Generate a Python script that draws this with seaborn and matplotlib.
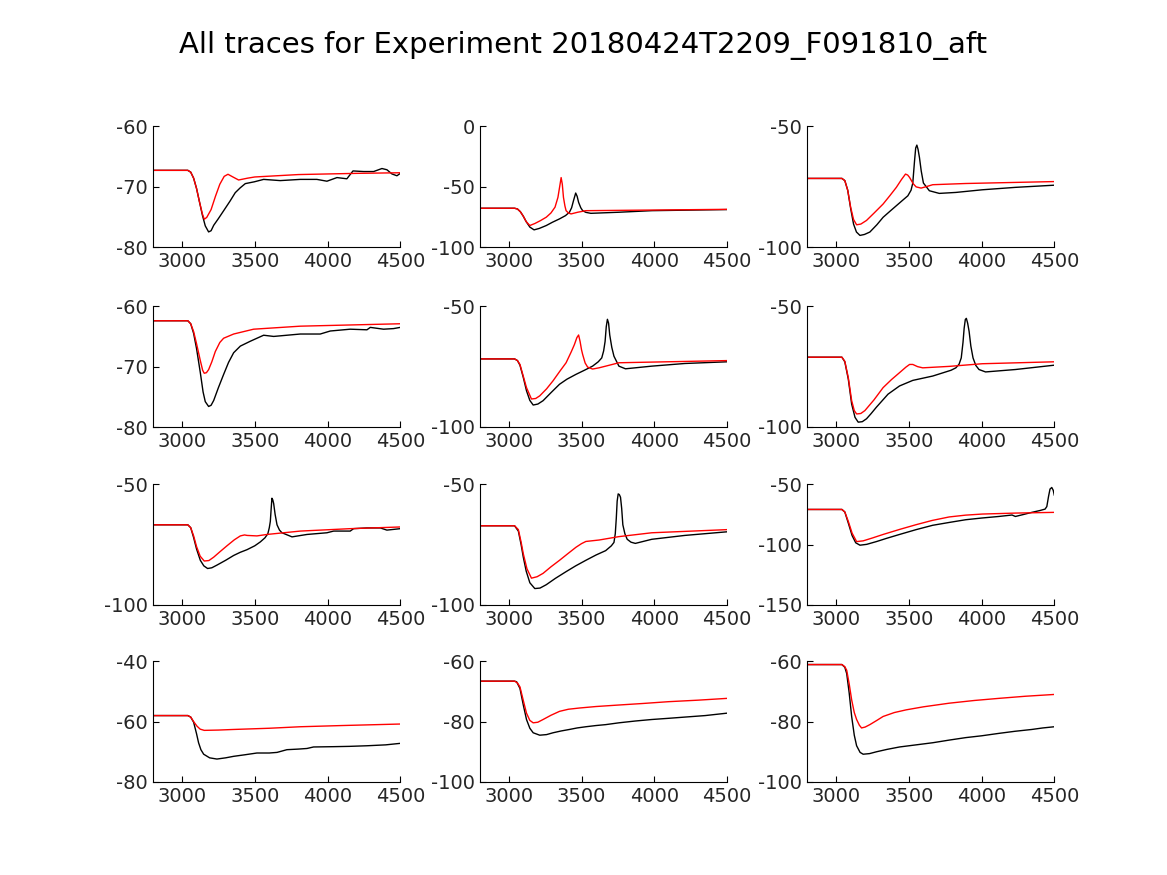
import numpy as np
import pandas as pd
import matplotlib
matplotlib.use("Agg")
import matplotlib.pyplot as plt
import seaborn as sns

# ── Data (x = sample, y = value) ──────────────────────────────────────────────
p1_bx = [2800, 3040, 3060, 3080, 3100, 3120, 3140, 3160, 3183, 3200, 3218, 3250, 3286, 3330, 3366, 3400, 3435, 3497, 3561, 3675, 3813, 3927, 3996, 4065, 4133, 4175, 4248, 4317, 4374, 4408, 4443, 4477, 4500]
p1_by = [-67.3, -67.3, -67.6, -68.6, -70.3, -72.5, -74.7, -76.5, -77.5, -77.3, -76.4, -75.3, -74.0, -72.4, -71.0, -70.2, -69.5, -69.2, -68.8, -69.0, -68.8, -68.8, -69.1, -68.5, -68.7, -67.4, -67.5, -67.5, -67.0, -67.2, -67.9, -68.2, -67.8]
p1_rx = [2800, 3040, 3060, 3080, 3100, 3120, 3140, 3153, 3170, 3200, 3230, 3260, 3290, 3316, 3350, 3389, 3450, 3500, 3800, 4200, 4500]
p1_ry = [-67.3, -67.3, -67.6, -68.6, -70.3, -72.5, -74.5, -75.4, -75.1, -73.8, -71.6, -69.6, -68.3, -67.95, -68.4, -68.9, -68.6, -68.4, -68.0, -67.8, -67.7]

p2_bx = [2800, 3040, 3060, 3080, 3100, 3120, 3145, 3174, 3210, 3258, 3300, 3349, 3390, 3417, 3432, 3445, 3460, 3470, 3480, 3495, 3508, 3530, 3564, 3757, 3983, 4500]
p2_by = [-67.9, -67.9, -68.5, -70.8, -74.5, -79.0, -83.5, -85.8, -84.6, -82.2, -79.5, -76.7, -74.0, -71.2, -67.5, -61.6, -55.3, -58.0, -63.0, -67.5, -69.9, -71.3, -72.1, -71.2, -69.9, -69.0]
p2_rx = [2800, 3040, 3060, 3080, 3100, 3120, 3145, 3180, 3220, 3258, 3290, 3318, 3338, 3350, 3360, 3368, 3376, 3386, 3394, 3410, 3428, 3474, 3530, 4500]
p2_ry = [-67.9, -67.9, -68.5, -70.8, -74.5, -79.0, -82.2, -80.5, -78.0, -75.3, -71.8, -67.0, -58.9, -50.0, -42.5, -48.0, -58.9, -66.0, -69.9, -71.8, -72.6, -71.2, -69.9, -68.8]

p3_bx = [2800, 3040, 3060, 3080, 3100, 3120, 3140, 3164, 3195, 3232, 3280, 3323, 3370, 3414, 3460, 3493, 3515, 3527, 3539, 3547, 3555, 3563, 3573, 3585, 3600, 3641, 3709, 3823, 4005, 4232, 4500]
p3_by = [-71.6, -71.6, -72.5, -76.5, -84.0, -90.5, -93.8, -95.2, -94.8, -93.8, -90.8, -87.7, -85.2, -82.9, -80.5, -78.8, -76.5, -73.5, -64.4, -59.0, -57.8, -59.5, -63.0, -68.5, -73.5, -76.7, -77.8, -77.4, -76.3, -75.3, -74.4]
p3_rx = [2800, 3040, 3060, 3080, 3100, 3120, 3141, 3170, 3209, 3260, 3323, 3370, 3414, 3450, 3477, 3492, 3505, 3530, 3550, 3584, 3620, 3664, 3891, 4500]
p3_ry = [-71.6, -71.6, -72.5, -76.5, -83.5, -88.6, -90.8, -90.5, -89.0, -86.0, -82.2, -78.7, -75.3, -72.0, -69.8, -70.2, -71.2, -73.8, -75.1, -75.6, -75.0, -74.2, -73.7, -72.9]

p4_bx = [2800, 3040, 3060, 3080, 3100, 3126, 3145, 3160, 3183, 3200, 3218, 3250, 3286, 3320, 3355, 3401, 3469, 3561, 3630, 3813, 3950, 4019, 4156, 4271, 4294, 4385, 4454, 4500]
p4_by = [-62.4, -62.4, -62.9, -64.5, -67.0, -71.0, -74.2, -75.8, -76.6, -76.4, -75.6, -73.5, -71.3, -69.3, -67.7, -66.6, -65.8, -64.8, -65.0, -64.6, -64.6, -64.1, -63.8, -63.9, -63.5, -63.8, -63.7, -63.5]
p4_rx = [2800, 3040, 3060, 3080, 3100, 3126, 3142, 3153, 3168, 3183, 3205, 3229, 3260, 3286, 3355, 3492, 3813, 4500]
p4_ry = [-62.4, -62.4, -62.9, -64.2, -66.2, -69.0, -70.6, -71.1, -71.0, -70.5, -69.2, -67.5, -66.0, -65.3, -64.6, -63.8, -63.3, -62.9]

p5_bx = [2800, 3040, 3060, 3077, 3100, 3122, 3145, 3168, 3200, 3236, 3290, 3349, 3400, 3462, 3520, 3576, 3615, 3639, 3652, 3662, 3670, 3678, 3686, 3694, 3708, 3723, 3757, 3802, 3983, 4210, 4500]
p5_by = [-71.8, -71.8, -72.5, -74.4, -79.5, -85.0, -89.0, -90.9, -90.5, -89.1, -85.8, -82.3, -80.2, -78.2, -76.5, -74.8, -73.0, -71.4, -68.5, -64.6, -58.5, -55.4, -57.0, -61.9, -67.0, -70.7, -74.8, -75.9, -74.8, -73.7, -73.0]
p5_rx = [2800, 3040, 3060, 3077, 3100, 3122, 3156, 3185, 3213, 3260, 3304, 3350, 3394, 3430, 3451, 3468, 3480, 3490, 3500, 3508, 3525, 3542, 3576, 3620, 3666, 3757, 4500]
p5_ry = [-71.8, -71.8, -72.5, -74.1, -79.0, -83.7, -88.4, -88.2, -87.1, -84.2, -80.9, -77.0, -73.4, -68.8, -65.9, -63.0, -61.9, -64.5, -68.0, -70.0, -73.5, -75.2, -76.0, -75.5, -74.8, -73.4, -72.5]

p6_bx = [2800, 3040, 3060, 3084, 3107, 3130, 3152, 3180, 3209, 3240, 3277, 3357, 3436, 3527, 3664, 3790, 3823, 3845, 3860, 3872, 3880, 3888, 3895, 3904, 3914, 3926, 3941, 3960, 3982, 4027, 4232, 4500]
p6_by = [-71.1, -71.1, -73.0, -80.2, -90.5, -96.0, -98.0, -97.8, -96.6, -94.5, -91.8, -86.4, -83.0, -80.7, -78.9, -76.5, -75.5, -74.0, -71.4, -65.0, -59.1, -55.5, -55.0, -57.0, -60.4, -66.5, -71.4, -74.5, -76.2, -77.2, -76.2, -74.4]
p6_rx = [2800, 3040, 3060, 3084, 3107, 3125, 3141, 3170, 3198, 3260, 3323, 3380, 3436, 3480, 3505, 3527, 3560, 3595, 3777, 4005, 4500]
p6_ry = [-71.1, -71.1, -72.8, -79.6, -89.1, -93.2, -94.6, -94.4, -93.2, -88.8, -83.7, -80.4, -77.5, -75.2, -74.1, -74.1, -75.0, -75.5, -74.9, -73.8, -73.0]

p7_bx = [2800, 3040, 3060, 3080, 3100, 3126, 3150, 3176, 3205, 3240, 3300, 3355, 3400, 3447, 3500, 3538, 3570, 3590, 3600, 3607, 3613, 3618, 3624, 3630, 3640, 3653, 3670, 3687, 3756, 3859, 3996, 4042, 4156, 4179, 4271, 4363, 4408, 4500]
p7_by = [-66.8, -66.8, -68.0, -72.1, -76.8, -81.5, -83.8, -84.9, -84.6, -83.5, -81.5, -79.5, -78.2, -77.1, -75.5, -73.9, -72.2, -70.5, -68.0, -65.4, -60.0, -55.8, -56.5, -58.0, -62.5, -66.8, -69.0, -70.1, -71.8, -70.8, -70.1, -69.4, -69.4, -68.4, -68.1, -68.1, -69.0, -68.4]
p7_rx = [2800, 3040, 3060, 3080, 3100, 3125, 3153, 3185, 3218, 3260, 3309, 3360, 3401, 3430, 3447, 3515, 3584, 3813, 4156, 4500]
p7_ry = [-66.8, -66.8, -68.0, -71.4, -75.8, -79.8, -81.8, -81.6, -80.2, -78.0, -75.5, -73.0, -71.4, -71.0, -71.2, -71.4, -70.8, -69.4, -68.4, -67.7]

p8_bx = [2800, 3040, 3066, 3085, 3100, 3120, 3145, 3179, 3215, 3258, 3320, 3394, 3460, 3530, 3600, 3666, 3705, 3723, 3732, 3739, 3745, 3752, 3760, 3768, 3776, 3784, 3798, 3814, 3840, 3870, 3983, 4210, 4500]
p8_by = [-67.2, -67.2, -69.4, -75.0, -80.2, -86.0, -90.8, -93.2, -93.0, -91.6, -89.0, -86.2, -83.8, -81.5, -79.3, -77.5, -75.5, -74.1, -70.5, -64.1, -57.0, -54.0, -54.3, -55.4, -60.0, -66.8, -70.5, -72.8, -74.0, -74.5, -72.8, -71.2, -69.7]
p8_rx = [2800, 3040, 3066, 3085, 3100, 3125, 3156, 3195, 3236, 3290, 3349, 3405, 3462, 3500, 3530, 3575, 3621, 3757, 3983, 4500]
p8_ry = [-67.2, -67.2, -68.8, -74.0, -78.8, -85.0, -88.9, -88.3, -86.9, -84.2, -81.5, -78.8, -76.1, -74.6, -73.7, -73.4, -73.1, -71.7, -70.1, -68.8]

p9_bx = [2800, 3040, 3060, 3084, 3110, 3135, 3164, 3210, 3277, 3350, 3436, 3550, 3664, 3780, 3891, 4000, 4118, 4209, 4232, 4290, 4345, 4400, 4436, 4448, 4460, 4470, 4482, 4492, 4500]
p9_by = [-70.9, -70.9, -73.0, -82.2, -92.5, -98.5, -100.5, -99.8, -97.5, -94.7, -91.6, -87.6, -84.0, -81.6, -79.4, -78.0, -76.7, -75.5, -76.7, -75.0, -73.3, -71.8, -70.6, -68.5, -60.0, -54.0, -52.7, -55.0, -59.4]
p9_rx = [2800, 3040, 3060, 3084, 3110, 3141, 3186, 3250, 3323, 3440, 3550, 3660, 3777, 3890, 4005, 4232, 4500]
p9_ry = [-70.9, -70.9, -73.0, -80.8, -90.5, -97.5, -96.9, -94.5, -91.6, -87.3, -83.5, -80.0, -77.1, -75.6, -74.7, -73.9, -73.3]

p10_bx = [2800, 3040, 3060, 3080, 3100, 3114, 3130, 3149, 3190, 3240, 3300, 3355, 3430, 3515, 3600, 3653, 3721, 3800, 3859, 3904, 4042, 4150, 4271, 4400, 4500]
p10_by = [-58.0, -58.0, -58.5, -60.2, -64.0, -67.0, -69.3, -70.8, -72.0, -72.4, -72.0, -71.5, -71.0, -70.4, -70.4, -70.2, -69.3, -69.1, -68.9, -68.4, -68.3, -68.2, -68.0, -67.7, -67.2]
p10_rx = [2800, 3040, 3060, 3080, 3103, 3125, 3153, 3250, 3355, 3600, 3813, 4100, 4500]
p10_ry = [-58.0, -58.0, -58.5, -60.0, -61.5, -62.5, -62.9, -62.8, -62.6, -62.2, -61.7, -61.3, -60.8]

p11_bx = [2800, 3040, 3054, 3077, 3100, 3122, 3145, 3168, 3213, 3260, 3304, 3360, 3417, 3470, 3530, 3600, 3666, 3757, 3870, 3983, 4100, 4210, 4350, 4500]
p11_by = [-66.6, -66.6, -66.8, -69.0, -74.5, -79.3, -82.2, -83.7, -84.5, -84.3, -83.7, -83.1, -82.6, -82.1, -81.7, -81.3, -81.0, -80.4, -79.8, -79.3, -78.9, -78.5, -78.0, -77.2]
p11_rx = [2800, 3040, 3060, 3077, 3100, 3122, 3145, 3168, 3200, 3236, 3290, 3349, 3410, 3485, 3600, 3757, 3920, 4097, 4300, 4500]
p11_ry = [-66.6, -66.6, -67.2, -68.5, -73.0, -77.2, -79.6, -80.4, -80.2, -79.3, -77.9, -76.6, -75.9, -75.5, -75.0, -74.5, -74.0, -73.4, -72.9, -72.3]

p12_bx = [2800, 3040, 3060, 3073, 3090, 3107, 3125, 3141, 3165, 3186, 3230, 3277, 3350, 3436, 3550, 3664, 3780, 3891, 4000, 4118, 4230, 4345, 4420, 4500]
p12_by = [-61.1, -61.1, -62.0, -64.1, -70.5, -78.3, -84.5, -88.0, -90.2, -90.8, -90.6, -90.0, -89.2, -88.4, -87.7, -87.0, -86.1, -85.3, -84.7, -83.9, -83.2, -82.6, -82.1, -81.7]
p12_rx = [2800, 3040, 3060, 3073, 3090, 3107, 3125, 3141, 3160, 3175, 3200, 3232, 3280, 3323, 3400, 3482, 3600, 3777, 3950, 4118, 4300, 4500]
p12_ry = [-61.1, -61.1, -61.8, -63.0, -67.5, -72.8, -77.0, -79.3, -81.2, -82.1, -81.8, -81.0, -79.6, -78.3, -77.0, -76.1, -75.1, -73.9, -73.0, -72.3, -71.6, -71.0]

y_limits = [(-80, -60), (-100, 0), (-100, -50),
            (-80, -60), (-100, -50), (-100, -50),
            (-100, -50), (-100, -50), (-150, -50),
            (-80, -40), (-100, -60), (-100, -60)]
y_ticks = [[-80, -70, -60], [-100, -50, 0], [-100, -50],
           [-80, -70, -60], [-100, -50], [-100, -50],
           [-100, -50], [-100, -50], [-150, -100, -50],
           [-80, -60, -40], [-100, -80, -60], [-100, -80, -60]]
x_ticks = [3000, 3500, 4000, 4500]

panels = [
    (p1_bx, p1_by, p1_rx, p1_ry), (p2_bx, p2_by, p2_rx, p2_ry), (p3_bx, p3_by, p3_rx, p3_ry),
    (p4_bx, p4_by, p4_rx, p4_ry), (p5_bx, p5_by, p5_rx, p5_ry), (p6_bx, p6_by, p6_rx, p6_ry),
    (p7_bx, p7_by, p7_rx, p7_ry), (p8_bx, p8_by, p8_rx, p8_ry), (p9_bx, p9_by, p9_rx, p9_ry),
    (p10_bx, p10_by, p10_rx, p10_ry), (p11_bx, p11_by, p11_rx, p11_ry), (p12_bx, p12_by, p12_rx, p12_ry),
]

# ── Style ─────────────────────────────────────────────────────────────────────
sns.set_style("ticks")
plt.rcParams["font.family"] = ["DejaVu Sans"]
plt.rcParams["axes.unicode_minus"] = False
plt.rcParams["xtick.direction"] = "in"
plt.rcParams["ytick.direction"] = "in"

fig = plt.figure(figsize=(11.67, 8.75), dpi=100)

# MATLAB-like subplot grid positions (figure fractions)
col_left = [0.131, 0.411, 0.6915]
row_bottom = [0.7177, 0.512, 0.3086, 0.1063]
ax_w, ax_h = 0.212, 0.138

for i, (bx, by, rx, ry) in enumerate(panels):
    r, c = divmod(i, 3)
    ax = fig.add_axes([col_left[c], row_bottom[r], ax_w, ax_h])
    sns.lineplot(x=bx, y=by, ax=ax, color="black", lw=1.0, estimator=None, sort=False)
    sns.lineplot(x=rx, y=ry, ax=ax, color="red", lw=1.0, estimator=None, sort=False)
    ax.set_xlim(2800, 4500)
    ax.set_ylim(*y_limits[i])
    ax.set_xticks(x_ticks)
    ax.set_yticks(y_ticks[i])
    ax.tick_params(labelsize=14, labelcolor="#262626", color="black", length=4, width=0.8)
    for s in ["left", "bottom"]:
        ax.spines[s].set_color("black")
        ax.spines[s].set_linewidth(0.8)
    sns.despine(ax=ax)
    ax.set_xlabel("")
    ax.set_ylabel("")

fig.suptitle("All traces for Experiment 20180424T2209_F091810_aft",
             fontsize=21, y=0.965, color="black")

fig.savefig("out.png", dpi=100)
